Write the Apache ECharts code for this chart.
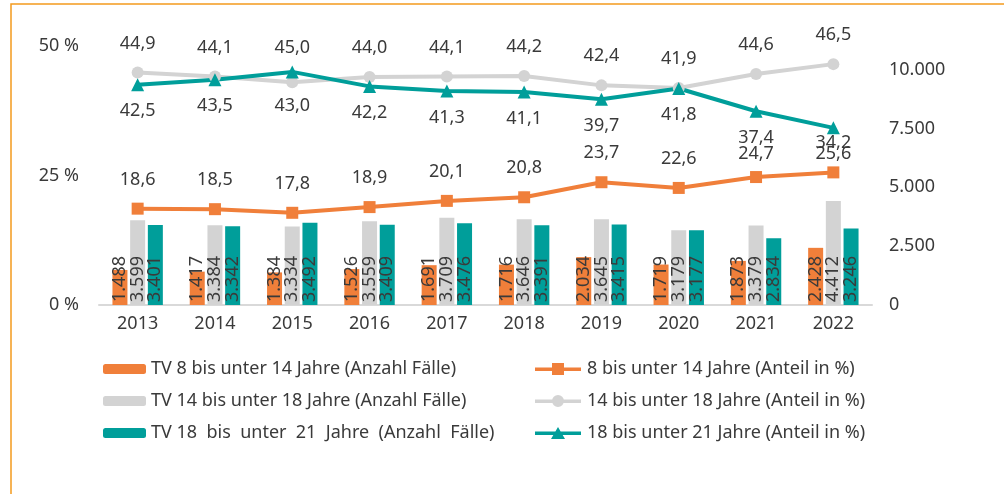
<!DOCTYPE html>
<html><head><meta charset="utf-8">
<script src="https://cdn.jsdelivr.net/npm/echarts@6/dist/echarts.min.js"></script>
<style>html,body{margin:0;padding:0;background:#fff}#c{width:1004px;height:494px}</style>
</head><body><div id="c"></div>
<script>
const years = ['2013','2014','2015','2016','2017','2018','2019','2020','2021','2022'];
const tv8_14 = [1488,1417,1384,1526,1691,1716,2034,1719,1873,2428];
const tv14_18 = [3599,3384,3334,3559,3709,3646,3645,3179,3379,4412];
const tv18_21 = [3401,3342,3492,3409,3476,3391,3415,3177,2834,3246];
const pct8_14 = [18.6,18.5,17.8,18.9,20.1,20.8,23.7,22.6,24.7,25.6];
const pct14_18 = [44.9,44.1,43.0,44.0,44.1,44.2,42.4,41.9,44.6,46.5];
const pct18_21 = [42.5,43.5,45.0,42.2,41.3,41.1,39.7,41.8,37.4,34.2];
const leftTicks = [0,25,50];
const rightTicks = [0,2500,5000,7500,10000];

const C_OR='#F07F3A', C_GR='#D3D3D3', C_TE='#009E9A', TXT='#3a3a3a';
const FONT='Noto Sans';
const fmtInt = v => String(v).replace(/\B(?=(\d{3})+(?!\d))/g,'.');
const fmtDec = v => v.toFixed(1).replace('.',',');

// per-point label placement tweaks (layout only)
const greyPos = i => i===2 ? 'bottom' : 'top';
const tealPos = i => i===2 ? 'top' : 'bottom';
const tealDist = i => i===9 ? 0 : (i===2 ? 9 : 11);
const orDist = i => i===9 ? 4 : (i===8 ? 8 : 14);

const ICON_SQ = 'path://M0,5h46v3.5H0z M17,0.5h12v12H17z';
const ICON_CI = 'path://M0,5h46v3.5H0z M29,6.5a6,6 0 1,1 -12,0a6,6 0 1,1 12,0z';
const ICON_TR = 'path://M0,5h46v3.5H0z M23,0.5L30,12.5H16z';

function barSeries(name, data, color){
  return {name, type:'bar', yAxisIndex:1, data, barWidth:15, barGap:'18%',
    itemStyle:{color},
    label:{show:true, position:'insideBottom', rotate:90, align:'left', verticalAlign:'middle',
      distance:3, color:TXT, fontSize:18, fontFamily:FONT, formatter:p=>fmtInt(p.value)}};
}
function lineSeries(name, data, color, symbol, size, posFn, distFn){
  return {name, type:'line', yAxisIndex:0, symbol, symbolSize:size,
    lineStyle:{color, width:4}, itemStyle:{color},
    data: data.map((v,i)=>({value:v, label:{position:posFn(i), distance:distFn(i)}})),
    label:{show:true, color:TXT, fontSize:18, fontFamily:FONT, formatter:p=>fmtDec(p.value)},
    z:5};
}

const chart = echarts.init(document.getElementById('c'), null, {renderer:'canvas'});
chart.setOption({
  animation:false,
  textStyle:{fontFamily:FONT},
  graphic:[{type:'rect', shape:{x:11, y:4, width:1200, height:700},
    style:{fill:'none', stroke:'#F39A1E', lineWidth:1.5}, silent:true}],
  grid:{left:99, right:132, top:46, height:259},
  legend:[
    {data:['TV 8 bis unter 14 Jahre (Anzahl Fälle)','TV 14 bis unter 18 Jahre (Anzahl Fälle)','TV 18  bis  unter  21  Jahre  (Anzahl  Fälle)'],
     orient:'vertical', left:98, top:355, itemWidth:43, itemHeight:10, itemGap:14,
     textStyle:{fontSize:18, color:TXT, fontFamily:FONT}},
    {data:[{name:'8 bis unter 14 Jahre (Anteil in %)', icon:ICON_SQ},
           {name:'14 bis unter 18 Jahre (Anteil in %)', icon:ICON_CI},
           {name:'18 bis unter 21 Jahre (Anteil in %)', icon:ICON_TR}],
     orient:'vertical', left:530, top:355, itemWidth:46, itemHeight:13, itemGap:14,
     textStyle:{fontSize:18, color:TXT, fontFamily:FONT, padding:[0,0,0,1]}}
  ],
  xAxis:{type:'category', data:years,
    axisLine:{lineStyle:{color:'#D9D9D9', width:2}}, axisTick:{show:false},
    axisLabel:{color:TXT, fontSize:18, fontFamily:FONT, margin:10}},
  yAxis:[
    {type:'value', min:leftTicks[0], max:leftTicks[leftTicks.length-1], interval:25,
     splitLine:{show:false}, axisLine:{show:false}, axisTick:{show:false},
     axisLabel:{color:TXT, fontSize:18, fontFamily:FONT, margin:20, formatter:v=>leftTicks.includes(v)?v+' %':''}},
    {type:'value', min:0, max:11000, interval:2500, position:'right',
     splitLine:{show:false}, axisLine:{show:false}, axisTick:{show:false},
     axisLabel:{color:TXT, fontSize:18, fontFamily:FONT, margin:17, showMaxLabel:false,
       formatter:v=>rightTicks.includes(v)?fmtInt(v):''}}
  ],
  series:[
    barSeries('TV 8 bis unter 14 Jahre (Anzahl Fälle)', tv8_14, C_OR),
    barSeries('TV 14 bis unter 18 Jahre (Anzahl Fälle)', tv14_18, C_GR),
    barSeries('TV 18  bis  unter  21  Jahre  (Anzahl  Fälle)', tv18_21, C_TE),
    lineSeries('8 bis unter 14 Jahre (Anteil in %)', pct8_14, C_OR, 'rect', 12, ()=>'top', orDist),
    lineSeries('14 bis unter 18 Jahre (Anteil in %)', pct14_18, C_GR, 'circle', 12, greyPos, i=>i===2?9:14),
    lineSeries('18 bis unter 21 Jahre (Anteil in %)', pct18_21, C_TE, 'triangle', 13, tealPos, tealDist)
  ]
});
</script></body></html>
